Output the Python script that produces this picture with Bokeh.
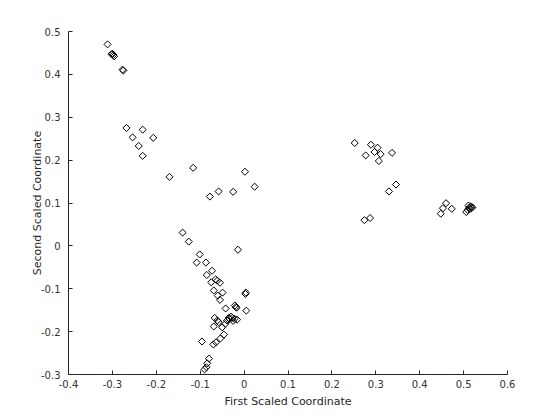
import math
from bokeh.plotting import figure
from bokeh.models import FixedTicker, CustomJSTickFormatter, Range1d
from bokeh.embed import file_html
from bokeh.resources import INLINE

x_first = [-0.311, -0.300, -0.298, -0.296, -0.302, -0.277, -0.275,
           -0.268, -0.231, -0.254, -0.207, -0.240, -0.231, -0.116, -0.170, -0.078, -0.058, -0.025, 0.002, 0.024,
           -0.140, -0.126, -0.101, -0.108, -0.087, -0.073, -0.085, -0.075, -0.065, -0.061, -0.055, -0.014,
           -0.069, -0.049, -0.060, -0.055, 0.003, 0.004, -0.042, -0.021, -0.019, -0.017, 0.005,
           -0.033, -0.027, -0.022, -0.016, -0.039, -0.030, -0.025, -0.035,
           -0.067, -0.061, -0.058, -0.069, -0.050, -0.043, -0.046, -0.054, -0.064, -0.070, -0.096,
           -0.080, -0.084, -0.086, -0.090,
           0.252, 0.289, 0.304, 0.297, 0.311, 0.277, 0.337, 0.307, 0.346, 0.330, 0.287, 0.274,
           0.460, 0.453, 0.448, 0.473, 0.513, 0.506, 0.516, 0.518, 0.511, 0.520, 0.514, 0.509]
y_second = [0.470, 0.448, 0.445, 0.442, 0.447, 0.411, 0.409,
            0.275, 0.271, 0.253, 0.252, 0.233, 0.210, 0.182, 0.161, 0.115, 0.127, 0.126, 0.173, 0.138,
            0.031, 0.010, -0.020, -0.039, -0.039, -0.058, -0.068, -0.085, -0.078, -0.081, -0.086, -0.009,
            -0.104, -0.109, -0.116, -0.126, -0.112, -0.109, -0.146, -0.139, -0.143, -0.144, -0.151,
            -0.171, -0.168, -0.170, -0.172, -0.174, -0.165, -0.175, -0.168,
            -0.168, -0.174, -0.178, -0.188, -0.190, -0.182, -0.207, -0.216, -0.225, -0.230, -0.223,
            -0.263, -0.274, -0.283, -0.288,
            0.240, 0.236, 0.229, 0.219, 0.214, 0.211, 0.217, 0.198, 0.143, 0.127, 0.065, 0.060,
            0.0995, 0.088, 0.075, 0.0865, 0.089, 0.079, 0.092, 0.088, 0.094, 0.090, 0.086, 0.084]

x_ticks = [-0.4, -0.3, -0.2, -0.1, 0.0, 0.1, 0.2, 0.3, 0.4, 0.5, 0.6]
y_ticks = [-0.3, -0.2, -0.1, 0.0, 0.1, 0.2, 0.3, 0.4, 0.5]

p = figure(frame_width=439, frame_height=343, output_backend="svg", toolbar_location=None,
           x_range=Range1d(-0.4, 0.6), y_range=Range1d(-0.3, 0.5),
           min_border_left=68, min_border_top=31, min_border_right=53, min_border_bottom=46)
p.outline_line_color = None
p.xgrid.visible = False
p.ygrid.visible = False

p.scatter(x_first, y_second, marker="square", size=5, angle=math.pi / 4,
          fill_color=None, line_color="black", line_width=1)

fmt = CustomJSTickFormatter(code="return String(Number(tick.toFixed(1)));")
for ax, ticks in ((p.xaxis[0], x_ticks), (p.yaxis[0], y_ticks)):
    ax.ticker = FixedTicker(ticks=ticks)
    ax.formatter = fmt
    ax.major_tick_in = 4
    ax.major_tick_out = 0
    ax.minor_tick_line_color = None
    ax.axis_line_color = "#262626"
    ax.major_tick_line_color = "#262626"
    ax.major_label_text_font = "DejaVu Sans"
    ax.major_label_text_font_size = "10px"
    ax.major_label_text_color = "#333333"
    ax.axis_label_text_font = "DejaVu Sans"
    ax.axis_label_text_font_size = "11px"
    ax.axis_label_text_font_style = "normal"
    ax.axis_label_text_color = "#262626"

p.xaxis.axis_label = "First Scaled Coordinate"
p.yaxis.axis_label = "Second Scaled Coordinate"
p.xaxis.major_label_standoff = 5
p.yaxis.major_label_standoff = 8
p.xaxis.axis_label_standoff = 4
p.yaxis.axis_label_standoff = -6

open("out.html", "w").write(file_html(p, INLINE))
